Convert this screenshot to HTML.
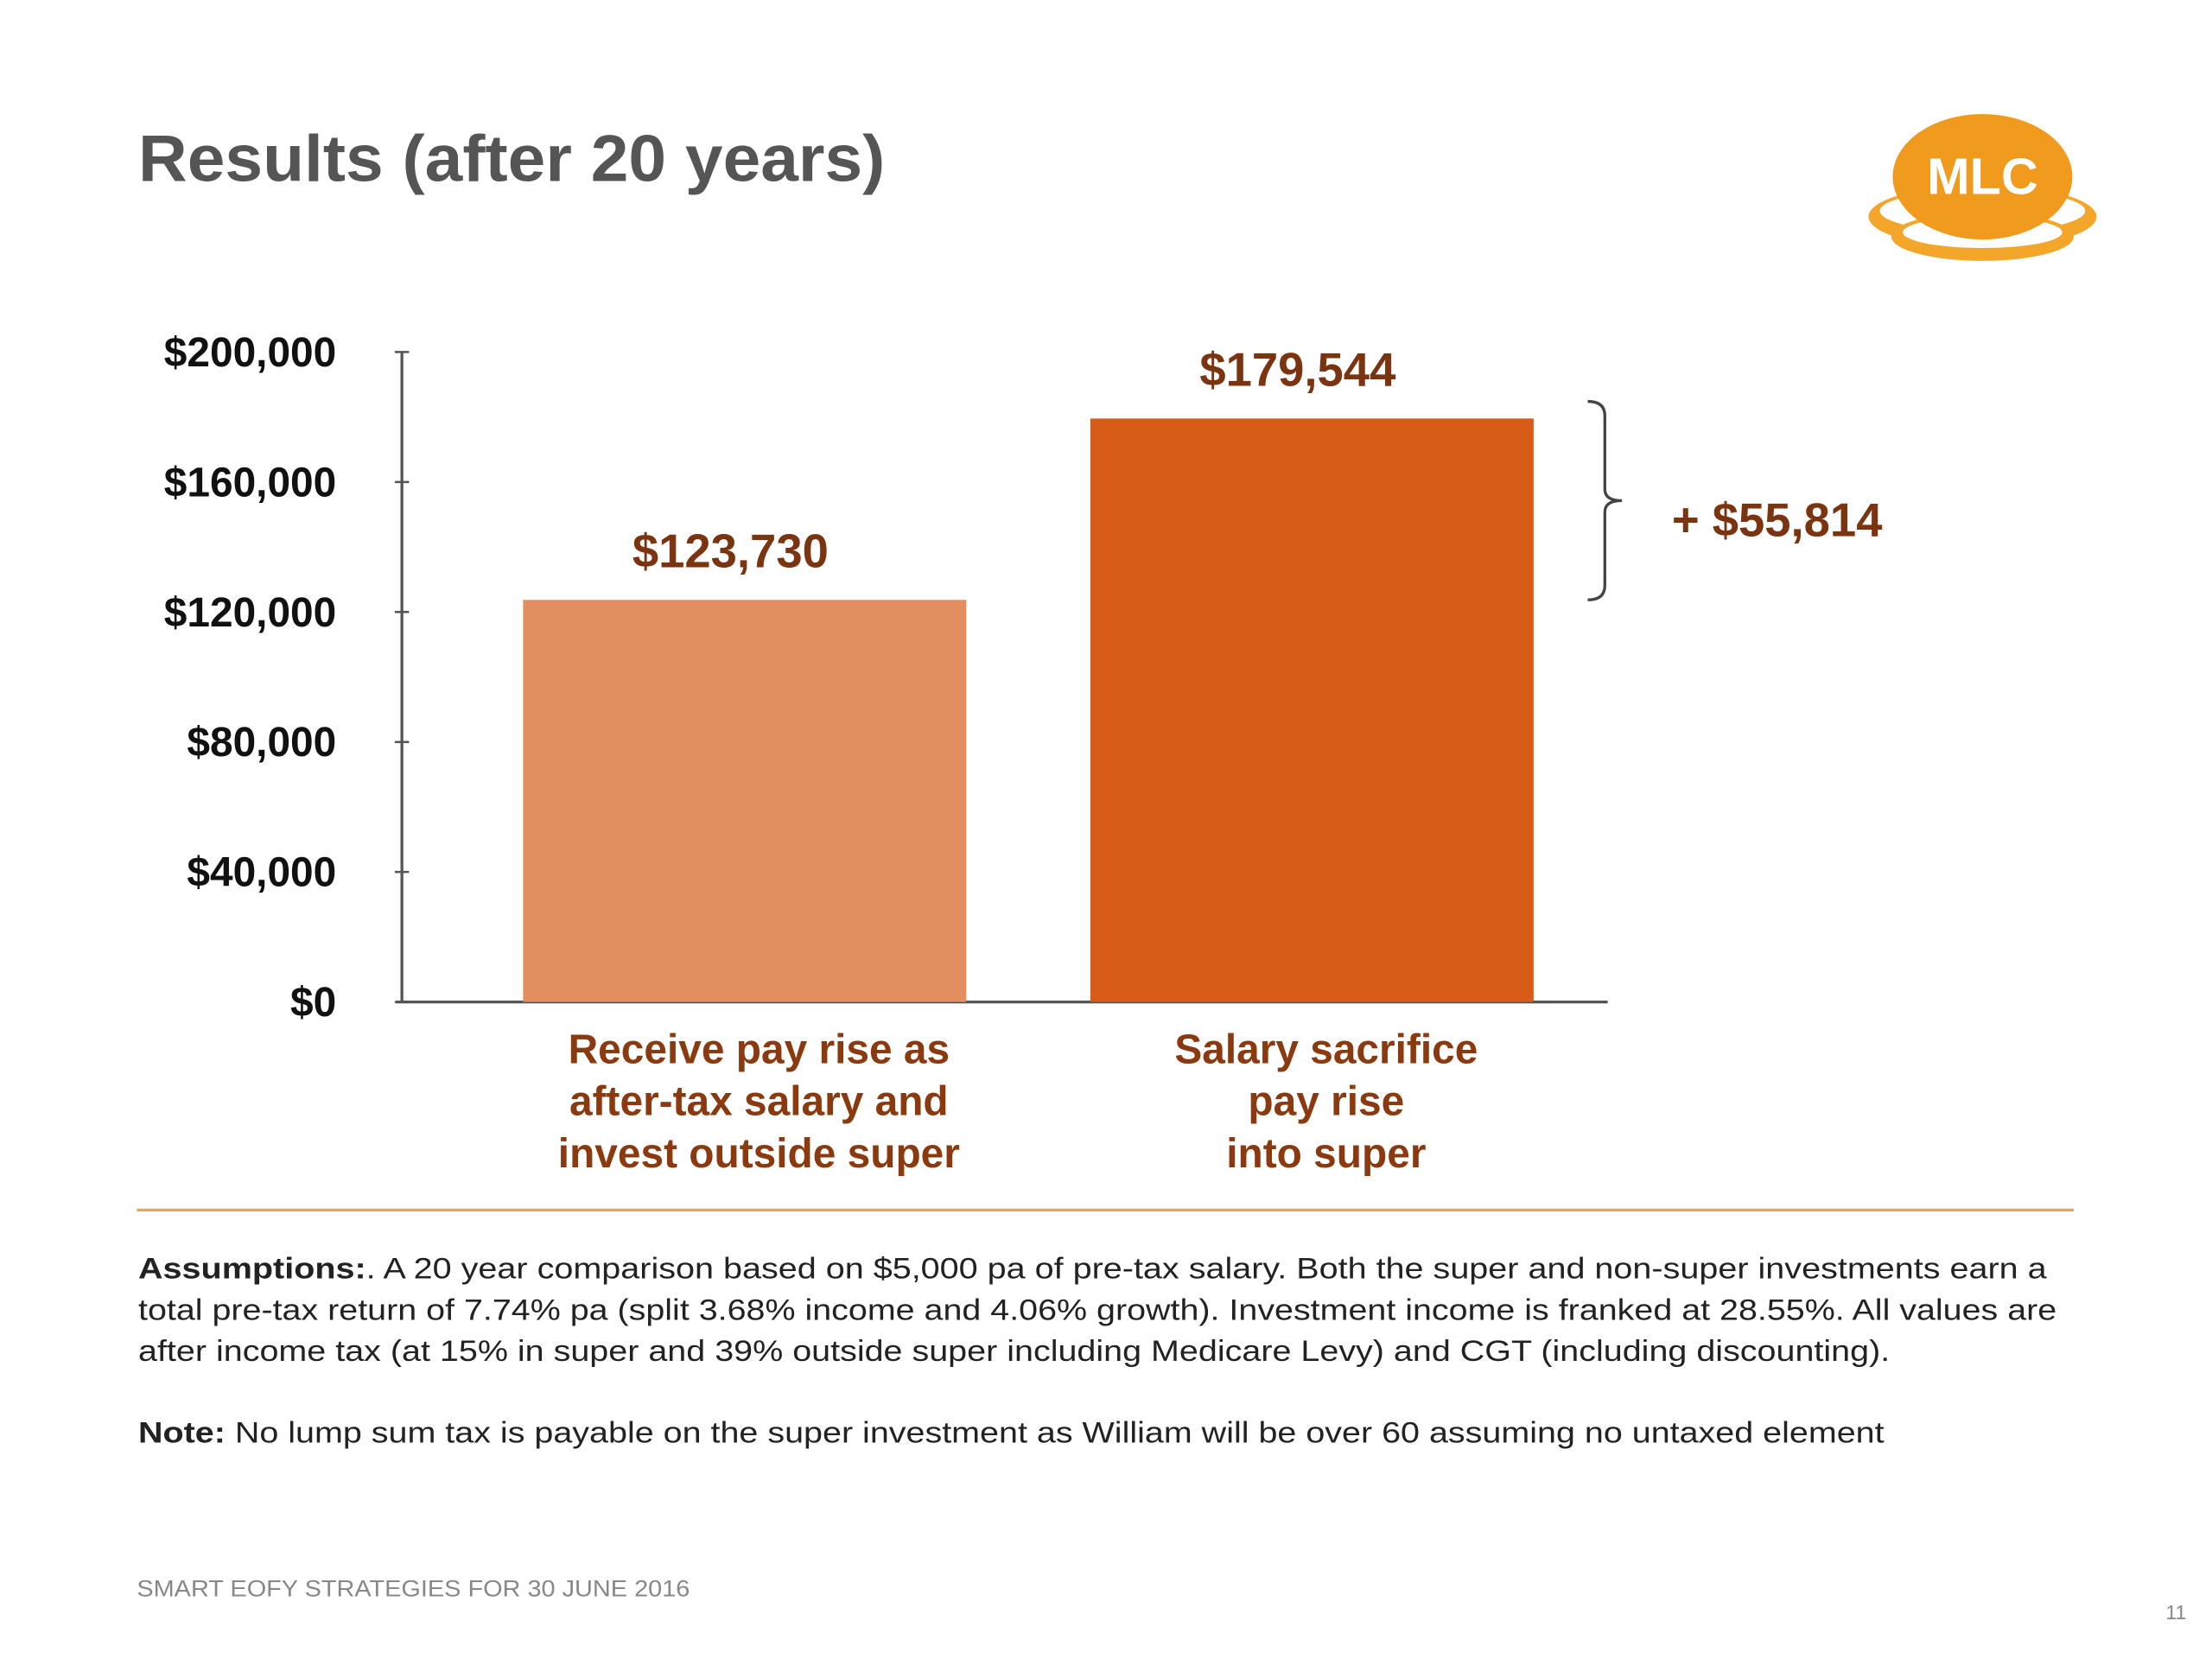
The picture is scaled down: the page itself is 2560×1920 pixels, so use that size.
<!DOCTYPE html>
<html><head><meta charset="utf-8"><style>
html,body{margin:0;padding:0;background:#fff;}
svg{display:block;font-family:"Liberation Sans",Arial,sans-serif;}
</style></head><body>
<svg id="chart" width="2560" height="1920" viewBox="0 0 1552 1164" xmlns="http://www.w3.org/2000/svg">
<rect width="1552" height="1164" fill="#fff"/>
<text x="97" y="127" font-size="46" font-weight="bold" fill="#555" textLength="524" lengthAdjust="spacingAndGlyphs">Results (after 20 years)</text>
<g>
<ellipse cx="1391" cy="152" rx="80" ry="22" fill="#F4A62A"/>
<ellipse cx="1391" cy="148" rx="72" ry="15" fill="#fff"/>
<ellipse cx="1391" cy="166" rx="64" ry="17" fill="#F4A62A"/>
<ellipse cx="1391" cy="163" rx="56" ry="11" fill="#fff"/>
<ellipse cx="1391" cy="124" rx="63" ry="44" fill="#F09A1E"/>
<text x="1391" y="136" font-size="36" font-weight="bold" fill="#fff" text-anchor="middle">MLC</text>
</g>
<g id="plot"></g>
<line x1="96" y1="849" x2="1455" y2="849" stroke="#E8A070" stroke-width="2"/>
<g font-size="21" fill="#222">
<text x="97" y="897" textLength="1339" lengthAdjust="spacingAndGlyphs"><tspan font-weight="bold">Assumptions:</tspan>. A 20 year comparison based on $5,000 pa of pre-tax salary. Both the super and non-super investments earn a</text>
<text x="97" y="926" textLength="1346" lengthAdjust="spacingAndGlyphs">total pre-tax return of 7.74% pa (split 3.68% income and 4.06% growth). Investment income is franked at 28.55%. All values are</text>
<text x="97" y="955" textLength="1229" lengthAdjust="spacingAndGlyphs">after income tax (at 15% in super and 39% outside super including Medicare Levy) and CGT (including discounting).</text>
<text x="97" y="1012" textLength="1225" lengthAdjust="spacingAndGlyphs"><tspan font-weight="bold">Note:</tspan> No lump sum tax is payable on the super investment as William will be over 60 assuming no untaxed element</text>
</g>
<text x="96" y="1120" font-size="16" fill="#888" textLength="388" lengthAdjust="spacingAndGlyphs">SMART EOFY STRATEGIES FOR 30 JUNE 2016</text>
<text x="1534" y="1136" font-size="14" fill="#888" text-anchor="end">11</text>
</svg>
<script>
const categories=[["Receive pay rise as","after-tax salary and","invest outside super"],["Salary sacrifice","pay rise","into super"]];
const values=[123730,179544];
const valueLabels=["$123,730","$179,544"];
const tickValues=[0,40000,80000,120000,160000,200000];
const tickLabels=["$0","$40,000","$80,000","$120,000","$160,000","$200,000"];
const diffLabel="+ $55,814";
const NS="http://www.w3.org/2000/svg";
const plotG=document.getElementById('plot');
const baseY=703, pxPerUnit=0.00228;
function yScale(v){return baseY-v*pxPerUnit;}
const barX=[367,765], barW=311, colors=["#E38E5E","#D65C17"];
function mk(t,a,txt){const e=document.createElementNS(NS,t);for(const n in a)e.setAttribute(n,a[n]);if(txt!=null)e.textContent=txt;plotG.appendChild(e);return e;}
const ax=mk('line',{x1:282,y1:yScale(tickValues[tickValues.length-1]),x2:282,y2:703,stroke:'#555','stroke-width':2});


const bl=mk('line',{x1:278,y1:703,x2:1128,y2:703,stroke:'#555','stroke-width':2});


tickValues.forEach((v,i)=>{
  const ty=yScale(v);
  const tk=mk('line',{x1:277,y1:ty,x2:287,y2:ty,stroke:'#555','stroke-width':1.5});
  
  
  const t=mk('text',{x:236,y:ty+10,'font-size':29,'font-weight':'bold',fill:'#111','text-anchor':'end'},tickLabels[i]);
  
  
});
values.forEach((v,i)=>{
  const r=mk('rect',{x:barX[i],y:yScale(v),width:barW,height:baseY-yScale(v),fill:colors[i]});
  
  
  const cx=barX[i]+barW/2;
  const t=mk('text',{x:cx-10,y:yScale(v)-23,'font-size':33,'font-weight':'bold',fill:'#7B3410','text-anchor':'middle'},valueLabels[i]);
  
  
  categories[i].forEach((ln,j)=>{
    const c=mk('text',{x:cx+10,y:746+j*36.5,'font-size':29,'font-weight':'bold',fill:'#8B3A0F','text-anchor':'middle'},ln);
    
    
  });
});
const braceTop=yScale(values[1])-12, braceBot=yScale(values[0]), braceMid=(braceTop+braceBot)/2;
const br=mk('path',{d:`M1114 ${braceTop} Q1126 ${braceTop} 1126 ${braceTop+10} L1126 ${braceMid-8} Q1126 ${braceMid} 1138 ${braceMid} Q1126 ${braceMid} 1126 ${braceMid+8} L1126 ${braceBot-10} Q1126 ${braceBot} 1114 ${braceBot}`,fill:'none',stroke:'#444','stroke-width':2});


const d=mk('text',{x:1173,y:braceMid+25,'font-size':33,'font-weight':'bold',fill:'#7B3410'},diffLabel);


</script>
</body></html>
